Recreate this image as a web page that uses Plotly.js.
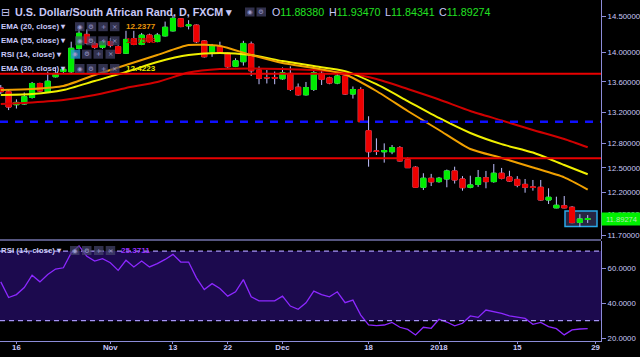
<!DOCTYPE html>
<html><head><meta charset="utf-8">
<script src="https://cdn.plot.ly/plotly-3.0.1.min.js"></script>
<style>html,body{margin:0;padding:0;background:#000;overflow:hidden}#chart{width:640px;height:357px}</style>
</head><body><div id="chart"></div>
<script>
// ---- data ----
const tickIdx = [2, 14, 22, 29, 36, 47, 56, 66, 76];
const tickLabels = ['16', 'Nov', '13', '22', 'Dec', '18', '2018', '15', '29'];
const candleIdx = Array.from({length: 76}, (_, k) => k);
const openP = [13.52,13.47,13.30,13.31,13.395,13.58,13.47,13.67,13.74,13.737,14.057,14.25,14.12,14.07,14.15,14.08,13.99,14.19,14.11,14.24,14.15,14.23,14.30,14.47,14.37,14.38,14.158,14.005,14.085,13.99,13.81,13.873,14.117,13.76,13.66,13.66,13.643,13.715,13.53,13.43,13.50,13.715,13.655,13.585,13.68,13.44,13.50,12.965,12.71,12.70,12.70,12.75,12.60,12.508,12.265,12.374,12.333,12.365,12.463,12.365,12.265,12.30,12.38,12.333,12.435,12.39,12.36,12.30,12.27,12.265,12.113,12.02,12.045,12.027,11.85,11.8838];
const highP = [13.56,13.49,13.37,13.46,13.60,13.59,13.74,13.80,13.80,14.148,14.32,14.32,14.15,14.17,14.20,14.10,14.30,14.30,14.27,14.26,14.27,14.43,14.52,14.48,14.45,14.39,14.17,14.117,14.148,14.00,13.92,14.16,14.15,13.81,13.76,13.74,13.795,13.81,13.58,13.60,13.76,13.76,13.67,13.72,13.69,13.54,13.53,13.15,12.868,12.805,12.784,12.77,12.63,12.52,12.435,12.427,12.39,12.48,12.515,12.40,12.405,12.475,12.463,12.548,12.50,12.465,12.40,12.365,12.353,12.353,12.253,12.152,12.16,12.04,11.945,11.9347];
const lowP = [13.44,13.23,13.25,13.30,13.38,13.47,13.46,13.66,13.72,13.72,14.04,14.11,14.05,14.05,14.07,13.98,13.98,14.10,14.10,14.13,14.14,14.22,14.29,14.35,14.32,14.13,13.93,13.94,13.98,13.79,13.80,13.82,13.68,13.57,13.58,13.57,13.63,13.48,13.42,13.42,13.48,13.56,13.57,13.57,13.43,13.38,13.07,12.515,12.66,12.565,12.67,12.58,12.50,12.26,12.232,12.28,12.32,12.265,12.31,12.224,12.253,12.27,12.253,12.32,12.36,12.33,12.265,12.20,12.224,12.105,12.065,12.015,12.015,11.84,11.80,11.84341];
const closeP = [13.47,13.27,13.33,13.405,13.58,13.48,13.61,13.715,13.77,14.057,14.265,14.13,14.07,14.15,14.10,13.99,14.18,14.11,14.24,14.15,14.24,14.35,14.476,14.36,14.385,14.148,13.941,14.085,13.99,13.805,13.886,14.124,13.75,13.649,13.655,13.65,13.724,13.50,13.43,13.525,13.724,13.635,13.585,13.68,13.44,13.50,13.08,12.70,12.705,12.715,12.75,12.586,12.503,12.265,12.374,12.33,12.374,12.463,12.353,12.26,12.293,12.38,12.333,12.435,12.373,12.34,12.29,12.265,12.262,12.113,12.145,12.05,12.02,11.847,11.89,11.89274];
const emaIdx = [0,4,8,12,16,20,24,28,32,36,40,44,48,52,56,60,64,68,72,75];
const ema20 = [13.493,13.506,13.546,13.693,13.828,13.964,14.102,14.088,13.964,13.855,13.787,13.70,13.48,13.218,12.974,12.734,12.623,12.505,12.385,12.2377];
const ema30 = [13.427,13.440,13.493,13.613,13.733,13.869,13.964,13.992,13.964,13.882,13.814,13.746,13.57,13.348,13.128,12.936,12.795,12.690,12.536,12.4223];
const ema55 = [13.309,13.330,13.361,13.427,13.520,13.600,13.726,13.774,13.781,13.774,13.760,13.719,13.639,13.506,13.368,13.218,13.096,12.974,12.860,12.756];
const rsi14 = [52.3,43.3,45.0,49.0,56.1,52.3,56.5,59.7,60.4,69.0,73.0,67.0,64.3,65.6,63.3,58.9,64.7,60.9,64.3,60.9,62.8,65.2,68.1,63.7,63.7,54.6,47.9,51.3,48.5,44.1,46.6,53.6,43.7,41.4,41.4,41.4,44.1,38.4,36.5,40.3,47.0,45.0,43.7,46.6,40.3,41.8,33.2,27.5,27.1,27.5,29.0,26.2,25.0,21.8,26.2,25.6,30.8,29.2,27.0,28.5,32.7,31.9,36.1,35.1,34.2,32.7,31.9,31.3,27.9,29.0,26.6,25.4,21.8,24.7,25.2,25.4];
const levels = [13.711, 13.08, 12.618];
const rsiBands = [30, 70];
const priceTicks = [14.5, 14.0, 13.6, 13.2, 12.8, 12.5, 12.2, 11.95, 11.7];
const rsiTicks = [20, 40, 60];

// ---- styling ----
const LAV = '#c8c8f8', UP = '#00ee00', DN = '#ee0000', WICK = '#c0c0ff';
const FONT = 'Liberation Sans, Arial, sans-serif';
const W = 601, H = 341;
const fx = p => p / W, fy = p => (H - p) / H;

const bodyHigh = openP.map((o, k) => Math.max(o, closeP[k]));
const bodyLow = openP.map((o, k) => Math.min(o, closeP[k]));

const traces = [
  {type: 'candlestick', x: candleIdx, open: openP, high: highP, low: lowP, close: closeP,
   increasing: {line: {color: WICK, width: 1}, fillcolor: UP},
   decreasing: {line: {color: WICK, width: 1}, fillcolor: DN},
   whiskerwidth: 0, hoverinfo: 'skip', showlegend: false, xaxis: 'x', yaxis: 'y'},
  {type: 'candlestick', x: candleIdx, open: openP, high: bodyHigh, low: bodyLow, close: closeP,
   increasing: {line: {color: UP, width: 1}, fillcolor: UP},
   decreasing: {line: {color: DN, width: 1}, fillcolor: DN},
   whiskerwidth: 0, hoverinfo: 'skip', showlegend: false, xaxis: 'x', yaxis: 'y'},
  {type: 'scatter', mode: 'lines', x: emaIdx, y: ema55, line: {color: '#d00000', width: 2, shape: 'spline', smoothing: 0.6}, showlegend: false, xaxis: 'x', yaxis: 'y'},
  {type: 'scatter', mode: 'lines', x: emaIdx, y: ema30, line: {color: '#f0f000', width: 2, shape: 'spline', smoothing: 0.6}, showlegend: false, xaxis: 'x', yaxis: 'y'},
  {type: 'scatter', mode: 'lines', x: emaIdx, y: ema20, line: {color: '#f0a000', width: 2, shape: 'spline', smoothing: 0.6}, showlegend: false, xaxis: 'x', yaxis: 'y'},
  {type: 'scatter', mode: 'lines', x: candleIdx, y: rsi14, line: {color: '#8c28ff', width: 1.3}, showlegend: false, xaxis: 'x', yaxis: 'y2'}
];

const shapes = [];
shapes.push({type: 'rect', xref: 'paper', yref: 'y2', x0: 0, x1: 1, y0: rsiBands[0], y1: rsiBands[1], fillcolor: '#1c0a4e', line: {width: 0}, layer: 'below'});
rsiBands.forEach(v => shapes.push({type: 'line', xref: 'paper', yref: 'y2', x0: 0, x1: 1, y0: v, y1: v, line: {color: '#a594f4', width: 1.3, dash: '5px,4px'}}));
shapes.push({type: 'line', xref: 'paper', yref: 'y', x0: 0, x1: 1, y0: levels[0], y1: levels[0], line: {color: '#e80000', width: 2}});
shapes.push({type: 'line', xref: 'paper', yref: 'y', x0: 0, x1: 1, y0: levels[1], y1: levels[1], line: {color: '#1010ff', width: 2.5, dash: '8px,7px'}});
shapes.push({type: 'line', xref: 'paper', yref: 'y', x0: 0, x1: 1, y0: levels[2], y1: levels[2], line: {color: '#e80000', width: 2}});
// pane separator
shapes.push({type: 'line', xref: 'paper', yref: 'paper', x0: 0, x1: 1, y0: fy(240), y1: fy(240), line: {color: '#55557f', width: 2}});
// highlight box on last candles
shapes.push({type: 'rect', xref: 'paper', yref: 'paper', x0: fx(565), x1: fx(597), y0: fy(226.5), y1: fy(211), fillcolor: 'rgba(70,70,120,0.55)', line: {color: '#2aa8e8', width: 1.5}, layer: 'below'});
// legend icon boxes
const iconRows = [
  {xs: [245, 256.5], y: 12},
  {xs: [75, 86.7, 98.3, 110], y: 26.7},
  {xs: [75, 86.7, 98.3, 110], y: 40.8},
  {xs: [70.7, 82, 93.5, 105.5], y: 54.2},
  {xs: [75, 86.7, 98.3, 110], y: 68.5},
  {xs: [70, 82, 94, 105.7], y: 250.5}
];
const annotations = [];
const glyphs = ['◉', '⚙', '+', '×'];
iconRows.forEach((r, ri) => r.xs.forEach((x, k) => {
  const hl = (ri === 3 && k === 0);
  shapes.push({type: 'rect', xref: 'paper', yref: 'paper', x0: fx(x), x1: fx(x + 9.5), y0: fy(r.y + 4.5), y1: fy(r.y - 4.5),
    fillcolor: hl ? 'rgba(40,150,220,0.75)' : 'rgba(70,70,110,0.7)', line: {width: 0}});
  annotations.push({xref: 'paper', yref: 'paper', x: fx(x + 4.75), y: fy(r.y), text: glyphs[k], showarrow: false,
    xanchor: 'center', yanchor: 'middle', font: {family: 'DejaVu Sans', size: 6.5, color: '#9a9acc'}});
}));

function txt(x, y, text, size, color, extra) {
  annotations.push(Object.assign({xref: 'paper', yref: 'paper', x: fx(x), y: fy(y), text: text, showarrow: false,
    xanchor: 'left', yanchor: 'middle', borderpad: 0, borderwidth: 0,
    font: {family: FONT, size: size, color: color, weight: (extra && extra.w) || 'normal'}}, extra && extra.o ? extra.o : {}));
}
txt(1, 12.5, '⊟', 11, LAV, {o: {font: {family: 'DejaVu Sans', size: 11, color: LAV}}});
txt(14.5, 12.5, 'U.S. Dollar/South African Rand, D, FXCM ▾', 10.8, LAV, {w: 'bold'});
const G = '#22e022';
txt(272, 12.5, 'O<span style="color:' + G + '">11.88380</span>', 10.7, LAV);
txt(329, 12.5, 'H<span style="color:' + G + '">11.93470</span>', 10.7, LAV);
txt(384.5, 12.5, 'L<span style="color:' + G + '">11.84341</span>', 10.7, LAV);
txt(439, 12.5, 'C<span style="color:' + G + '">11.89274</span>', 10.7, LAV);
txt(1, 26.7, 'EMA (20, close) ▾', 7.9, LAV, {w: 'bold'});
txt(1, 40.8, 'EMA (55, close) ▾', 7.9, LAV, {w: 'bold'});
txt(1, 54.2, 'RSI (14, close) ▾', 7.9, LAV, {w: 'bold'});
txt(1, 68.5, 'EMA (30, close) ▾', 7.9, LAV, {w: 'bold'});
txt(125.5, 26.7, '12.2377', 8.1, '#e8960a', {w: 'bold'});
txt(125.5, 40.8, '12.7558', 8.1, '#d00000', {w: 'bold'});
txt(125.5, 68.5, '12.4223', 8.1, '#e8e800', {w: 'bold'});
txt(1, 250.5, 'RSI (14, close) ▾', 7.9, LAV, {w: 'bold'});
txt(120.5, 250.5, '25.3711', 8.1, '#9630ff', {w: 'bold'});
annotations.push({xref: 'paper', yref: 'paper', x: fx(601), y: fy(219), text: '11.89274', showarrow: false,
  xanchor: 'left', yanchor: 'middle', bgcolor: '#00f000', borderpad: 1.5, width: 36,
  font: {family: FONT, size: 7.6, color: '#b4ecb4'}});

const layout = {
  width: 640, height: 357,
  margin: {l: 0, r: 39, t: 0, b: 16, pad: 0},
  paper_bgcolor: '#000', plot_bgcolor: 'rgba(0,0,0,0)',
  showlegend: false, boxgap: 0.2, boxgroupgap: 0.2,
  xaxis: {range: [-0.1, 76.7], anchor: 'y2', rangeslider: {visible: false}, showgrid: false, zeroline: false,
    tickmode: 'array', tickvals: tickIdx, ticktext: tickLabels, ticks: 'outside', ticklen: 2, tickcolor: '#8c8cd8',
    ticklabelstandoff: -3,
    showline: true, linecolor: '#8c8cd8', linewidth: 1,
    tickfont: {family: FONT, size: 7.8, color: LAV, weight: 'bold'}},
  yaxis: {type: 'log', domain: [(H - 239) / H, 1], range: [Math.log10(11.658), Math.log10(14.739)], side: 'right', anchor: 'x',
    showgrid: false, zeroline: false, tickmode: 'array', tickvals: priceTicks, ticktext: priceTicks.map(v => v.toFixed(5)),
    ticks: 'outside', ticklen: 4, tickcolor: '#8c8cd8', showline: true, linecolor: '#8c8cd8', linewidth: 1,
    tickfont: {family: FONT, size: 7.8, color: LAV}},
  yaxis2: {domain: [0, (H - 241) / H], range: [18.3, 75.8], side: 'right', anchor: 'x',
    showgrid: false, zeroline: false, tickmode: 'array', tickvals: rsiTicks, ticktext: rsiTicks.map(v => v.toFixed(4)),
    ticks: 'outside', ticklen: 4, tickcolor: '#8c8cd8', showline: true, linecolor: '#8c8cd8', linewidth: 1,
    tickfont: {family: FONT, size: 7.8, color: LAV}},
  shapes: shapes, annotations: annotations
};
Plotly.newPlot('chart', traces, layout, {staticPlot: true, displayModeBar: false});
</script></body></html>
